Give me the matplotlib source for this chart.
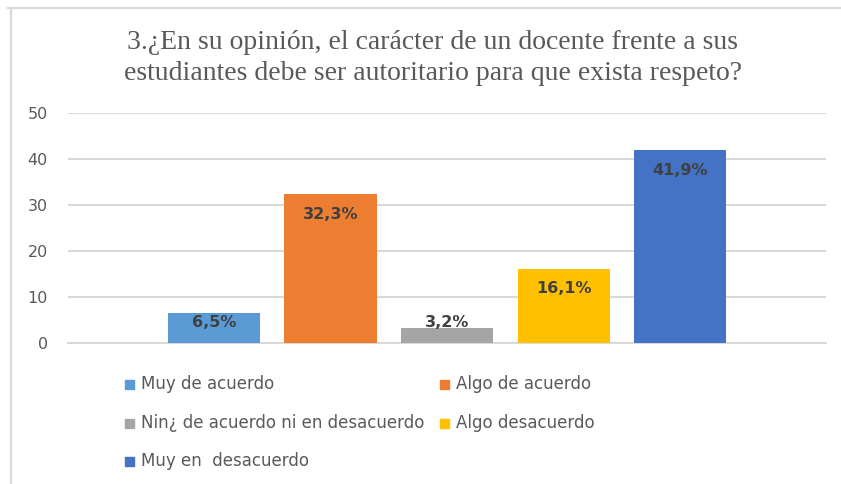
import matplotlib
matplotlib.use("Agg")
import matplotlib.pyplot as plt
from matplotlib.lines import Line2D
from matplotlib.patches import Rectangle

title = "3.¿En su opinión, el carácter de un docente frente a sus\nestudiantes debe ser autoritario para que exista respeto?"
series = ["Muy de acuerdo", "Algo de acuerdo", "Nin¿ de acuerdo ni en desacuerdo",
          "Algo desacuerdo", "Muy en  desacuerdo"]
values = [6.5, 32.3, 3.2, 16.1, 41.9]
labels = ["6,5%", "32,3%", "3,2%", "16,1%", "41,9%"]
colors = ["#5B9BD5", "#ED7D31", "#A5A5A5", "#FFC000", "#4472C4"]
yticks = [0, 10, 20, 30, 40, 50]

W, H = 841, 484
fig = plt.figure(figsize=(W / 100, H / 100), dpi=100)
fig.patch.set_facecolor("white")

# frame lines
fig.add_artist(Line2D([8 / W, 1], [1 - 8 / H, 1 - 8 / H], color="#d9d9d9", lw=1.6))
fig.add_artist(Line2D([11 / W, 11 / W], [0, 1 - 8 / H], color="#d9d9d9", lw=1.6))

ax = fig.add_axes([68 / W, 1 - 343 / H, (826 - 68) / W, (343 - 113) / H])
x = list(range(len(values)))
ax.bar(x, values, width=0.79, color=colors, zorder=3)
ax.set_xlim(-1.252, 5.25)
ax.set_ylim(0, 50)
ax.set_yticks(yticks)
ax.yaxis.grid(True, color="#d9d9d9", lw=1.5, zorder=0)
ax.set_axisbelow(True)
for s in ["top", "right", "left"]:
    ax.spines[s].set_visible(False)
ax.spines["bottom"].set_color("#d9d9d9")
ax.spines["bottom"].set_linewidth(1.5)
ax.set_xticks([])
ax.tick_params(axis="y", length=0, pad=14.5, labelsize=11.5, labelcolor="#595959")

for xi, v, lab in zip(x, values, labels):
    ax.text(xi, max(v - 4.3, 4.5), lab, ha="center", va="center",
            fontsize=11.5, fontweight="bold", color="#404040", zorder=4)

fig.text(433 / W, 1 - 58 / H, title, ha="center", va="center", family="Liberation Serif",
         fontsize=20, color="#595959", linespacing=1.28)

# legend
col_x = [125, 440]
row_y = [384, 423, 461]
for i, (name, c) in enumerate(zip(series, colors)):
    r, cl = divmod(i, 2)
    xm, ym = col_x[cl], row_y[r]
    fig.add_artist(Rectangle((xm / W, 1 - (ym + 4.5) / H), 9 / W, 9 / H,
                             transform=fig.transFigure, color=c))
    fig.text((xm + 16) / W, 1 - ym / H, name, ha="left", va="center",
             fontsize=12, color="#595959")

fig.savefig("out.png", dpi=100)
